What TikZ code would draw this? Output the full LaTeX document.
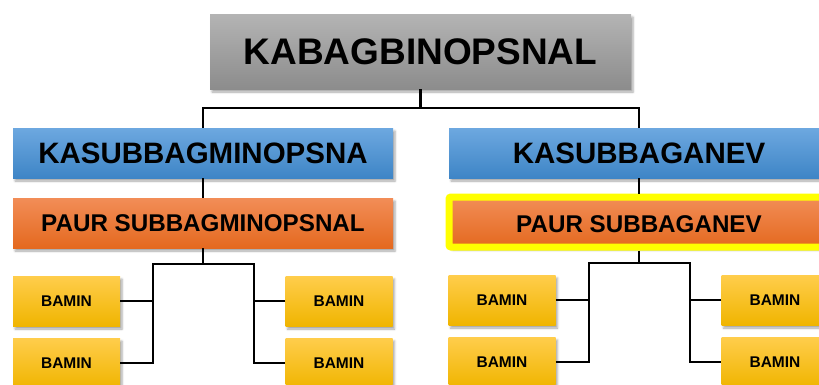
\documentclass[tikz,border=0pt]{standalone}
\usepackage{fontspec}
\setmainfont{Liberation Sans}
\usetikzlibrary{shadows.blur}
\definecolor{abuA}{HTML}{B4B4B4}
\definecolor{abuB}{HTML}{8C8C8C}
\definecolor{biruA}{HTML}{6DA8E0}
\definecolor{biruB}{HTML}{3E85C6}
\definecolor{jinggaA}{HTML}{F28D57}
\definecolor{jinggaB}{HTML}{E4691F}
\definecolor{emasA}{HTML}{FFCD4C}
\definecolor{emasB}{HTML}{F0B500}
\definecolor{kuning}{HTML}{FFFF00}
\begin{document}
\begin{tikzpicture}[x=1pt,y=-1pt,
  kotak/.style={inner sep=0pt, blur shadow={shadow xshift=2pt, shadow yshift=-3pt, shadow opacity=35, shadow blur steps=4}},
  kabag/.style={kotak, top color=abuA, bottom color=abuB, minimum width=421pt, minimum height=75pt, font=\bfseries\fontsize{37}{40}\selectfont},
  kasub/.style={kotak, top color=biruA, bottom color=biruB, minimum width=380pt, minimum height=50pt, font=\bfseries\fontsize{29.5}{31}\selectfont},
  paur/.style={kotak, top color=jinggaA, bottom color=jinggaB, minimum width=380pt, minimum height=50pt, font=\bfseries\fontsize{24.2}{26}\selectfont},
  bamin/.style={kotak, top color=emasA, bottom color=emasB, minimum width=107pt, minimum height=50pt, font=\bfseries\fontsize{15.5}{17}\selectfont},
  garis/.style={line width=2.2pt}]
  \useasboundingbox (0,0) rectangle (819,384);
  % kepala bagian
  \node[kabag] (kabag) at (420.5,51.5) {KABAGBINOPSNAL};
  \node[kasub] (kasubA) at (203,153) {KASUBBAGMINOPSNA};
  \node[kasub] (kasubB) at (639,153) {KASUBBAGANEV};
  \node[paur] (paurA) at (203,223) {PAUR SUBBAGMINOPSNAL};
  \node[paur, draw=kuning, line width=7pt, rounded corners=2pt, text height=21pt] (paurB) at (639,222) {PAUR SUBBAGANEV};
  \foreach \s/\x/\y in {A1/66.5/301, A2/66.5/363, A3/339/301, A4/339/363,
                        B1/502/300, B2/502/362, B3/775/300, B4/775/362}
    \node[bamin] (bamin\s) at (\x,\y) {BAMIN};
  % garis
  \coordinate (cab) at (420.5,108);
  \draw[garis] (kabag.south) -- (cab) -| (kasubA.north);
  \draw[garis] (cab) -| (kasubB.north);
  \draw[garis] (kasubA.south) -- (paurA.north);
  \draw[garis] (kasubB.south) -- (paurB.north);
  \coordinate (tA) at (203,264);
  \coordinate (kiriA) at (153,264);
  \coordinate (kananA) at (254,264);
  \draw[garis] (paurA.south) -- (tA);
  \draw[garis] (baminA2.east) -| (kiriA) -- (kananA) |- (baminA4.west);
  \draw[garis] (baminA1.east) -- (baminA1.east -| kiriA);
  \draw[garis] (baminA3.west) -- (baminA3.west -| kananA);
  \coordinate (tB) at (639,263);
  \coordinate (kiriB) at (589,263);
  \coordinate (kananB) at (690,263);
  \draw[garis] (paurB.south) -- (tB);
  \draw[garis] (baminB2.east) -| (kiriB) -- (kananB) |- (baminB4.west);
  \draw[garis] (baminB1.east) -- (baminB1.east -| kiriB);
  \draw[garis] (baminB3.west) -- (baminB3.west -| kananB);
\end{tikzpicture}
\end{document}
